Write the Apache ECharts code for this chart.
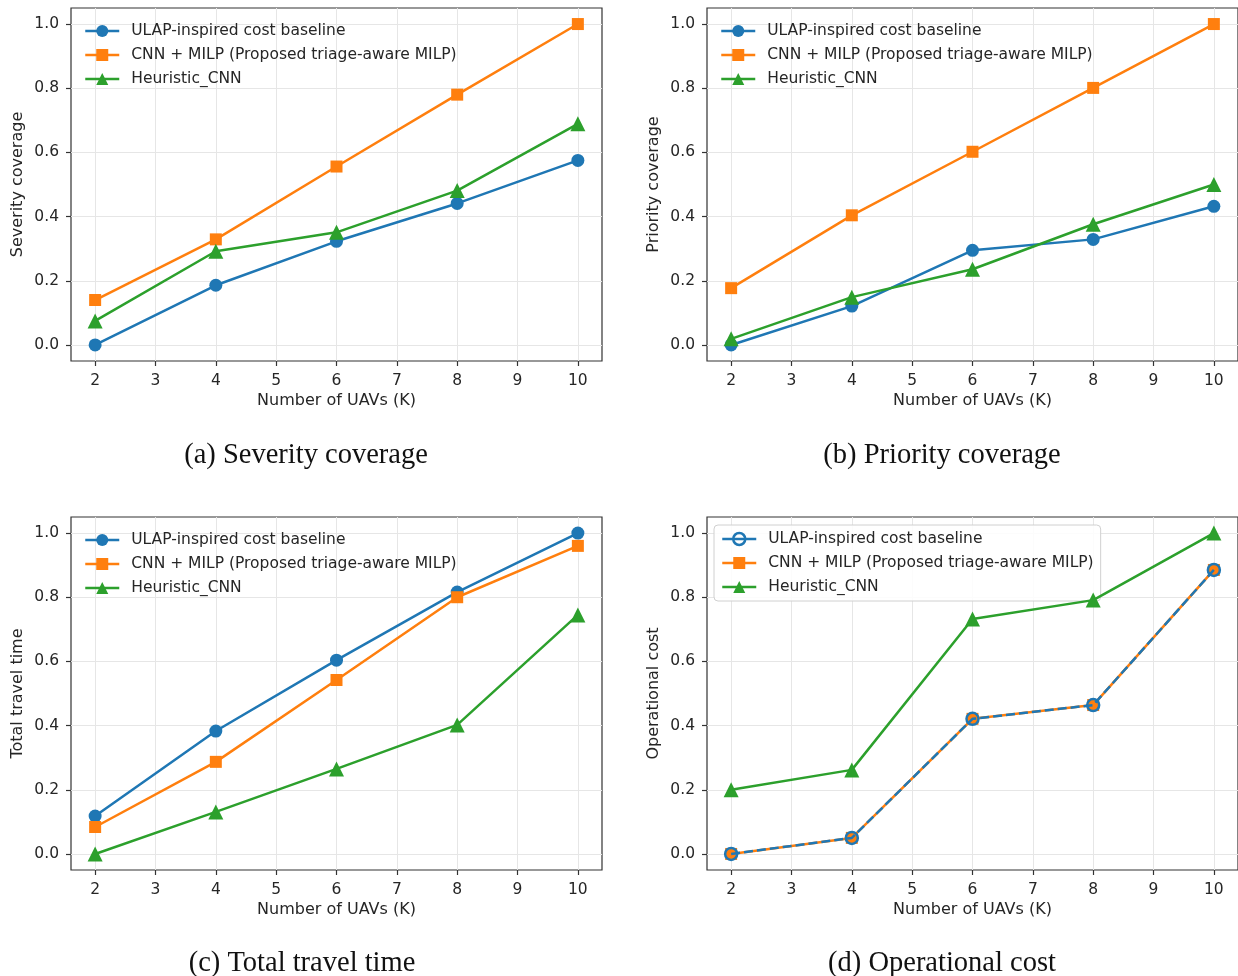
<!DOCTYPE html>
<html>
<head>
<meta charset="utf-8">
<script src="https://cdn.jsdelivr.net/npm/echarts@6/dist/echarts.min.js"></script>
<style>
html,body{margin:0;padding:0;background:#fff;}
#chart{width:1238px;height:976px;}
</style>
</head>
<body>
<div id="chart"></div>
<script>
// ---- data ----
const uavCounts = [2, 4, 6, 8, 10];
const xTicks = [2, 3, 4, 5, 6, 7, 8, 9, 10];
const yTicks = [0, 0.2, 0.4, 0.6, 0.8, 1.0];
const seriesNames = ['ULAP-inspired cost baseline', 'CNN + MILP (Proposed triage-aware MILP)', 'Heuristic_CNN'];
const xAxisTitle = 'Number of UAVs (K)';
const panelTitles = ['Severity coverage', 'Priority coverage', 'Total travel time', 'Operational cost'];
const captions = ['(a) Severity coverage', '(b) Priority coverage', '(c) Total travel time', '(d) Operational cost'];

// (a) Severity coverage
const sevULAP = [0.0, 0.186, 0.323, 0.441, 0.575];
const sevCNN  = [0.140, 0.329, 0.556, 0.780, 1.0];
const sevHeur = [0.075, 0.292, 0.351, 0.481, 0.689];
// (b) Priority coverage
const priULAP = [0.0, 0.121, 0.295, 0.329, 0.432];
const priCNN  = [0.177, 0.404, 0.602, 0.801, 1.0];
const priHeur = [0.019, 0.149, 0.236, 0.376, 0.500];
// (c) Total travel time
const ttULAP = [0.118, 0.383, 0.604, 0.816, 1.0];
const ttCNN  = [0.084, 0.287, 0.542, 0.800, 0.960];
const ttHeur = [0.0, 0.131, 0.265, 0.402, 0.745];
// (d) Operational cost
const ocULAP = [0.0, 0.050, 0.421, 0.464, 0.885];
const ocCNN  = [0.0, 0.050, 0.421, 0.464, 0.885];
const ocHeur = [0.200, 0.262, 0.732, 0.791, 1.0];

const panelData = [
  [sevULAP, sevCNN, sevHeur],
  [priULAP, priCNN, priHeur],
  [ttULAP, ttCNN, ttHeur],
  [ocULAP, ocCNN, ocHeur]
];

// ---- styling ----
const BLUE = '#1f77b4', ORANGE = '#ff7f0e', GREEN = '#2ca02c';
const FONT = 'DejaVu Sans';
const TXT = '#262626';
const grids = [
  {left: 71, top: 8, width: 531, height: 353},
  {left: 707, top: 8, width: 531, height: 353},
  {left: 71, top: 517, width: 531, height: 353},
  {left: 707, top: 517, width: 531, height: 353}
];
const captionPos = [[306, 456], [942, 456], [302, 964], [942, 964]];

const toPts = arr => uavCounts.map((x, i) => [x, arr[i]]);
const hollow = {color: 'rgba(0,0,0,0)', borderColor: BLUE, borderWidth: 2.5};

const option = {
  animation: false,
  backgroundColor: '#fff',
  grid: grids.map(g => Object.assign({show: true, borderColor: '#333', borderWidth: 1.2, backgroundColor: 'transparent'}, g)),
  xAxis: grids.map((g, i) => ({
    type: 'value', gridIndex: i, min: 1.6, max: 10.4,
    name: xAxisTitle, nameLocation: 'middle', nameGap: 32,
    nameTextStyle: {fontFamily: FONT, fontSize: 16, color: TXT},
    axisLine: {show: false, onZero: false},
    axisTick: {show: true, inside: false, length: 5, lineStyle: {color: '#333', width: 1.2}, customValues: xTicks},
    axisLabel: {fontFamily: FONT, fontSize: 15.5, color: TXT, margin: 12, customValues: xTicks},
    splitLine: {show: true, lineStyle: {color: '#e6e6e6', width: 1}}
  })),
  yAxis: grids.map((g, i) => ({
    type: 'value', gridIndex: i, min: -0.05, max: 1.05,
    name: panelTitles[i], nameLocation: 'middle', nameGap: 45,
    nameTextStyle: {fontFamily: FONT, fontSize: 16, color: TXT},
    axisLine: {show: false, onZero: false},
    axisTick: {show: true, inside: false, length: 5, lineStyle: {color: '#333', width: 1.2}, customValues: yTicks},
    axisLabel: {fontFamily: FONT, fontSize: 15.5, color: TXT, margin: 12, customValues: yTicks,
      formatter: v => v.toFixed(1)},
    splitLine: {show: true, lineStyle: {color: '#e6e6e6', width: 1}}
  })),
  legend: grids.map((g, i) => ({
    orient: 'vertical',
    left: i === 3 ? g.left + 7 : g.left + 8,
    top: i === 3 ? g.top + 8 : g.top + 10,
    padding: i === 3 ? [6, 7, 6, 7] : 5,
    itemWidth: 34, itemHeight: 15, itemGap: 8,
    backgroundColor: i === 3 ? 'rgba(255,255,255,0.85)' : 'transparent',
    borderColor: i === 3 ? '#d0d0d0' : 'transparent',
    borderWidth: i === 3 ? 1 : 0,
    borderRadius: 4,
    lineStyle: {width: 2.5},
    textStyle: {fontFamily: FONT, fontSize: 15.5, color: TXT, padding: [0, 0, 0, 7]},
    data: seriesNames.map((n, k) => (i === 3 && k === 0) ? {name: n, itemStyle: hollow} : {name: n}),
    selectedMode: false
  })),
  graphic: captions.map((c, i) => ({
    type: 'text', x: captionPos[i][0], y: captionPos[i][1],
    style: {text: c, font: '28.5px "Liberation Serif", "Times New Roman", serif', fill: '#111',
      textAlign: 'center', textVerticalAlign: 'middle'}
  })),
  series: []
};

const markers = ['circle', 'rect', 'triangle'];
const colors = [BLUE, ORANGE, GREEN];
const sizes = [13, 12, 15];
panelData.forEach((arrs, p) => {
  arrs.forEach((arr, k) => {
    const s = {
      type: 'line', name: seriesNames[k], xAxisIndex: p, yAxisIndex: p,
      data: toPts(arr), symbol: markers[k], symbolSize: sizes[k], showSymbol: true,
      lineStyle: {color: colors[k], width: 2.5},
      itemStyle: {color: colors[k]},
      z: 2 + k, silent: true
    };
    if (p === 3 && k === 0) {
      s.z = 10;
      s.lineStyle = {color: BLUE, width: 2.5, type: [9, 4]};
      s.itemStyle = hollow;
      s.symbolSize = 12;
    }
    if (p === 3 && k === 1) s.z = 5;
    if (p === 3 && k === 2) s.z = 4;
    option.series.push(s);
  });
});

const chart = echarts.init(document.getElementById('chart'));
chart.setOption(option);
</script>
</body>
</html>
